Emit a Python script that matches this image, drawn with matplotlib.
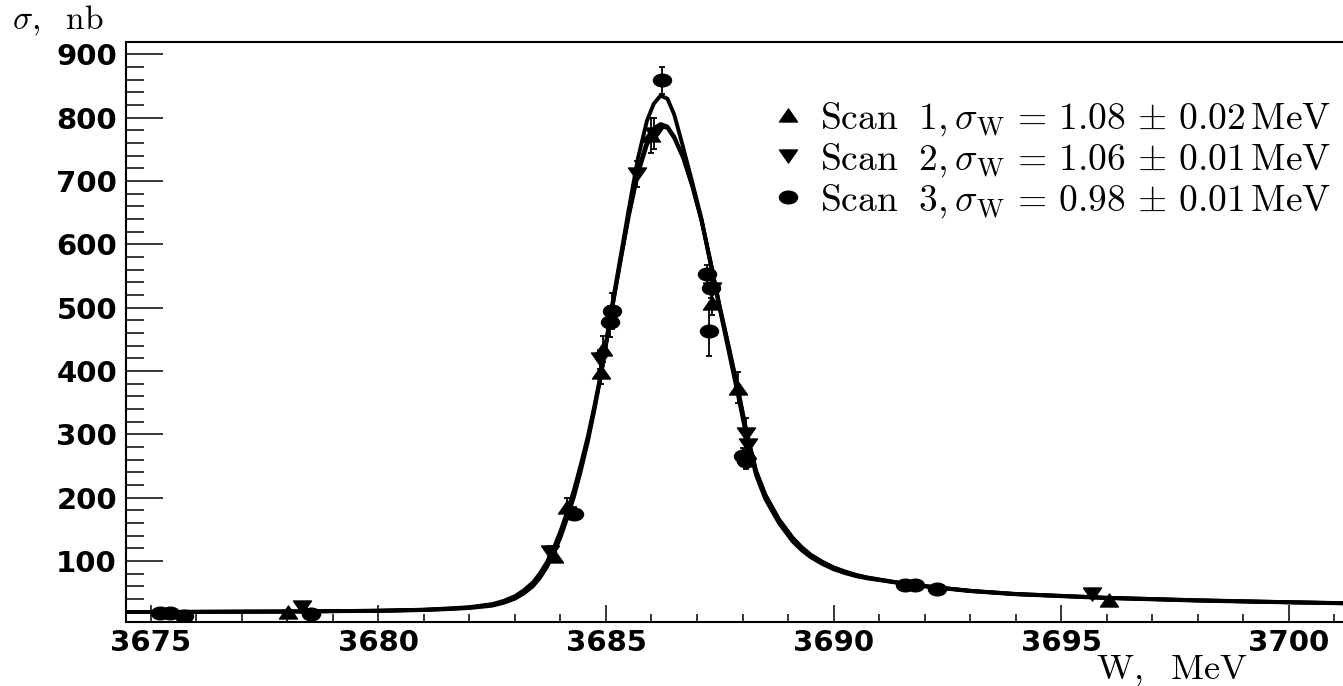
import matplotlib
matplotlib.use("Agg")
import matplotlib.pyplot as plt
from matplotlib.path import Path
from matplotlib.transforms import Affine2D
from matplotlib.ticker import MultipleLocator

plt.rcParams["mathtext.fontset"] = "cm"

# measured points, W in MeV, sigma in nb
scan1_w = [3678.02, 3683.85, 3684.15, 3684.90, 3684.94, 3686.00, 3687.34, 3687.89, 3688.10, 3696.04]
scan1_s = [19, 108, 186, 398, 435, 772, 508, 374, 272, 39]
scan1_e = [2, 8, 14, 18, 20, 28, 20, 24, 18, 3]

scan2_w = [3678.32, 3683.77, 3684.88, 3685.68, 3686.05, 3687.32, 3688.08, 3688.12, 3695.67]
scan2_s = [27, 115, 419, 711, 775, 529, 300, 283, 48]
scan2_e = [2, 8, 15, 20, 25, 20, 26, 20, 3]

scan3_w = [3675.20, 3675.42, 3675.74, 3678.52, 3684.30, 3685.09, 3685.13, 3686.24,
           3687.21, 3687.30, 3687.27, 3688.00, 3688.08, 3691.57, 3691.79, 3692.27]
scan3_s = [18, 18, 14, 17, 175, 478, 495, 859, 553, 531, 463, 266, 258, 62, 62, 56]
scan3_e = [2, 2, 2, 2, 10, 25, 29, 21, 15, 15, 40, 12, 12, 3, 3, 3]

# fitted curves
fit_w = [3674.45, 3676.0, 3678.0, 3680.0, 3681.0, 3681.5, 3682.0, 3682.5, 3682.75, 3683.0,
         3683.2, 3683.4, 3683.55, 3683.7, 3683.85, 3684.0, 3684.15, 3684.3, 3684.45, 3684.6,
         3684.75, 3684.9, 3685.1, 3685.3, 3685.5, 3685.7, 3685.9, 3686.05, 3686.2, 3686.35,
         3686.5, 3686.7, 3686.9, 3687.1, 3687.3, 3687.5, 3687.7, 3687.9, 3688.1, 3688.3,
         3688.5, 3688.8, 3689.1, 3689.3, 3689.5, 3689.75, 3690.0, 3690.25, 3690.5, 3690.75,
         3691.0, 3691.5, 3692.0, 3693.0, 3694.0, 3695.0, 3696.0, 3697.0, 3698.0, 3699.0,
         3700.0, 3701.2]
fit1 = [19.5, 19.8, 20.3, 21.5, 23, 24.5, 26.5, 31, 35.5, 42.5,
        51.5, 63.5, 77, 94, 116, 142, 173, 208, 248, 292,
        343, 398, 484, 567, 647, 715, 762, 783, 790, 786,
        770, 737, 692, 638, 572, 502, 438, 372, 300, 242,
        205, 166, 137, 122, 110, 99, 90, 83.5, 78, 74,
        71, 65, 60.5, 53, 48, 45, 42, 40, 38, 36.5,
        35, 33.5]
fit2 = [19.5, 19.8, 20.3, 21.6, 23.2, 25, 27.2, 32, 37, 44.5,
        54, 66.5, 80.5, 98, 120, 147, 178, 213, 253, 296,
        346, 400, 485, 566, 644, 711, 757, 779, 787, 784,
        768, 736, 691, 637, 571, 500, 436, 370, 299, 241,
        204, 165, 136, 121, 109, 98.5, 89.5, 83, 77.5, 73.5,
        70.5, 65, 60.5, 53, 48, 45, 42, 40, 38, 36.5,
        35, 33.5]
fit3 = [19.5, 19.8, 20.3, 21.3, 22.6, 24, 25.8, 29.5, 34, 40.5,
        49, 60.5, 73.5, 90, 112, 137, 168, 202, 243, 288,
        340, 397, 490, 572, 655, 735, 795, 822, 835, 830,
        805, 752, 697, 640, 568, 498, 430, 362, 292, 235,
        198, 160, 131, 117, 106, 95.5, 87, 81, 76, 72.5,
        70, 64.5, 60, 52.5, 47.5, 44.5, 41.5, 39.5, 37.5, 36,
        34.7, 33.2]

labels = [r"$\mathrm{Scan\ \ 1},\sigma_\mathrm{W}\,=\,1.08\,\pm\,0.02\,\mathrm{MeV}$",
          r"$\mathrm{Scan\ \ 2},\sigma_\mathrm{W}\,=\,1.06\,\pm\,0.01\,\mathrm{MeV}$",
          r"$\mathrm{Scan\ \ 3},\sigma_\mathrm{W}\,=\,0.98\,\pm\,0.01\,\mathrm{MeV}$"]

# ROOT markers, squashed like in the original picture
tri_up = Path([(-1, -0.72), (1, -0.72), (0, 0.72), (-1, -0.72)], closed=True)
tri_down = Path([(-1, 0.72), (1, 0.72), (0, -0.72), (-1, 0.72)], closed=True)
ellipse = Path.unit_circle().transformed(Affine2D().scale(1, 0.7))

fig = plt.figure(figsize=(13.43, 6.86), dpi=100)
ax = fig.add_axes([0.0938, 0.0926, 0.9062, 0.8466])

for f in (fit1, fit2, fit3):
    ax.plot(fit_w, f, color="black", lw=2.8, solid_joinstyle="round", zorder=2)

scans = [(scan1_w, scan1_s, scan1_e, tri_up),
         (scan2_w, scan2_s, scan2_e, tri_down),
         (scan3_w, scan3_s, scan3_e, ellipse)]
for (w, s, e, m), lab in zip(scans, labels):
    ax.errorbar(w, s, yerr=e, fmt="none", ecolor="black", elinewidth=1.3,
                capsize=2.5, capthick=1.3, zorder=3)
    ax.plot(w, s, ls="none", marker=m, ms=13, color="black", label=lab, zorder=4)

ax.set_xlim(3674.457, 3701.19)
ax.set_ylim(3, 920)
ax.xaxis.set_major_locator(MultipleLocator(5))
ax.xaxis.set_minor_locator(MultipleLocator(1))
ax.yaxis.set_major_locator(MultipleLocator(100))
ax.yaxis.set_minor_locator(MultipleLocator(20))

ax.spines["right"].set_visible(False)
for sp in ("left", "top", "bottom"):
    ax.spines[sp].set_linewidth(1.5)
ax.tick_params(axis="x", which="major", direction="in", length=12.2, width=1.1, pad=4.5)
ax.tick_params(axis="x", which="minor", direction="in", length=5.8, width=1.1)
ax.tick_params(axis="y", which="major", direction="in", length=26.6, width=1.1, pad=6.5)
ax.tick_params(axis="y", which="minor", direction="in", length=13, width=1.1)
for t in ax.get_xticklabels() + ax.get_yticklabels():
    t.set_fontfamily("DejaVu Sans")
    t.set_fontweight("bold")
    t.set_fontsize(21)

leg = ax.legend(loc="upper left", bbox_to_anchor=(0.5284, 0.8996), frameon=False,
                fontsize=27, handlelength=1.0, handletextpad=0.36, labelspacing=0.08,
                borderaxespad=0, borderpad=0, markerscale=1.0)

fig.text(12 / 1343, 1 - 21 / 686, r"$\sigma,\ \ \mathrm{nb}$", fontsize=24, ha="left", va="center")
fig.text(1248 / 1343, 1 - 670 / 686, r"$\mathrm{W,\ \ MeV}$", fontsize=26, ha="right", va="center")

fig.savefig("out.png", dpi=100)
